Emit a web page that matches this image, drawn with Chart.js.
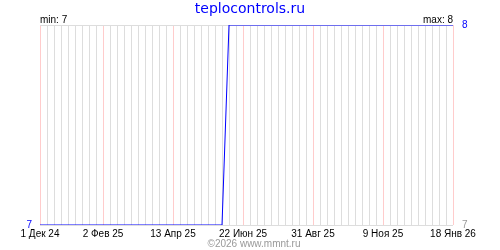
<!DOCTYPE html>
<html>
<head>
<meta charset="utf-8">
<script src="https://cdn.jsdelivr.net/npm/chart.js@4/dist/chart.umd.min.js"></script>
<style>
  body { margin: 0; background: #fff; }
  #wrap { width: 500px; height: 250px; }
</style>
</head>
<body>
<div id="wrap"><canvas id="out" width="500" height="250"></canvas></div>
<script>
// weekly readings, 1 Dec 2024 .. 18 Jan 2026
const weekValues = [
  7, 7, 7, 7, 7, 7, 7, 7, 7, 7,
  7, 7, 7, 7, 7, 7, 7, 7, 7, 7,
  7, 7, 7, 7, 7, 7, 7, 8, 8, 8,
  8, 8, 8, 8, 8, 8, 8, 8, 8, 8,
  8, 8, 8, 8, 8, 8, 8, 8, 8, 8,
  8, 8, 8, 8, 8, 8, 8, 8, 8, 8
];
const majorWeeks = [0, 9, 19, 29, 39, 49, 59];
const majorLabels = ["1 Дек 24", "2 Фев 25", "13 Апр 25", "22 Июн 25", "31 Авг 25", "9 Ноя 25", "18 Янв 26"];
const yMin = 7;
const yMax = 8;

const titleText = "teplocontrols.ru";
const footerText = "©2026 www.mmnt.ru";

const blue = "rgb(0, 0, 255)";
const gridGray = "rgb(221, 221, 221)";
const gridPink = "rgb(255, 204, 204)";
const fontFam = "'Liberation Sans', Arial, sans-serif";

const points = weekValues.map((v, i) => ({ x: i, y: v }));
const minVal = Math.min(...weekValues);
const maxVal = Math.max(...weekValues);

// title, min/max and footer text
const textPlugin = {
  id: "texts",
  afterDraw(chart) {
    const ctx = chart.ctx;
    const a = chart.chartArea;
    ctx.save();
    ctx.textBaseline = "alphabetic";
    ctx.fillStyle = blue;
    ctx.font = "14px 'DejaVu Sans', sans-serif";
    ctx.textAlign = "center";
    ctx.fillText(titleText, 250, 13);

    ctx.fillStyle = "#000";
    ctx.font = "10px " + fontFam;
    ctx.textAlign = "left";
    ctx.fillText("min: " + minVal, a.left, 23);
    ctx.textAlign = "right";
    ctx.fillText("max: " + maxVal, a.right, 23);

    ctx.fillStyle = "#999";
    ctx.textAlign = "center";
    ctx.fillText(footerText, 254, 247);
    ctx.restore();
  }
};

const chartConfig = {
  type: "line",
  data: {
    datasets: [{
      data: points,
      borderColor: blue,
      borderWidth: 1,
      pointRadius: 0,
      tension: 0,
      fill: false
    }]
  },
  options: {
    responsive: false,
    animation: false,
    layout: { padding: { top: 25, left: 0, right: 0, bottom: 0 } },
    plugins: { legend: { display: false }, tooltip: { enabled: false } },
    scales: {
      x: {
        type: "linear",
        min: 0,
        max: weekValues.length - 1,
        border: { display: false },
        grid: {
          drawTicks: false,
          tickLength: 0,
          color: c => majorWeeks.includes(c.tick.value) ? gridPink : gridGray
        },
        ticks: {
          stepSize: 1,
          autoSkip: false,
          maxRotation: 0,
          padding: 3,
          color: "#000",
          font: { family: fontFam, size: 10 },
          callback: v => {
            const k = majorWeeks.indexOf(v);
            return k >= 0 ? majorLabels[k] : "";
          }
        },
        afterFit: s => { s.height = 25; s.paddingLeft = 0; s.paddingRight = 0; }
      },
      y: {
        position: "left",
        min: yMin,
        max: yMax,
        border: { display: false },
        grid: { drawTicks: false, tickLength: 0, color: gridGray },
        ticks: {
          stepSize: 1,
          padding: 8,
          color: blue,
          font: { family: fontFam, size: 10 },
          callback: v => v === yMin ? String(v) : ""
        },
        afterFit: s => { s.width = 40; }
      },
      y2: {
        position: "right",
        min: yMin,
        max: yMax,
        border: { display: false },
        grid: { display: false, drawTicks: false },
        ticks: {
          stepSize: 1,
          padding: 9,
          color: c => c.tick.value === yMax ? blue : "#999",
          font: { family: fontFam, size: 10 }
        },
        afterFit: s => { s.width = 47; }
      }
    }
  },
  plugins: [textPlugin]
};

window.chart = new Chart(document.getElementById("out").getContext("2d"), chartConfig);
</script>
</body>
</html>
